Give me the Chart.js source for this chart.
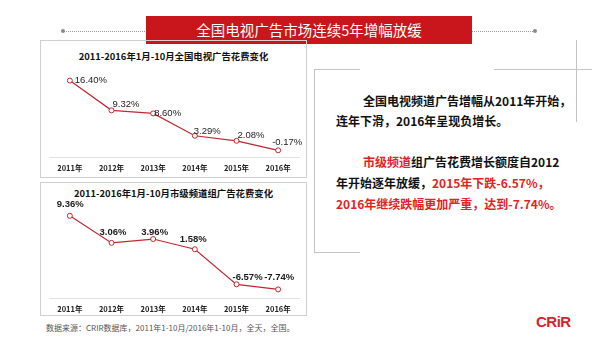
<!DOCTYPE html>
<html>
<head>
<meta charset="utf-8">
<script src="https://cdn.jsdelivr.net/npm/chart.js@4.4.1/dist/chart.umd.min.js"></script>
<style>
  body { margin: 0; background: #fff; }
  #page { position: relative; width: 600px; height: 337px; overflow: hidden; font-family: "Noto Sans CJK SC", "Noto Sans", sans-serif; }
  .abs { position: absolute; }
  .panel { position: absolute; border: 1px solid #cfcfcf; box-sizing: border-box; }
  .ptitle { position: absolute; left: 0; width: 100%; text-align: center; font-weight: bold; font-size: 9.4px; color: #111; line-height: 12px; }
  .gline { position: absolute; background: #c4c4c4; }
  .txt { position: absolute; font-weight: bold; font-size: 12px; color: #111; line-height: 14px; white-space: nowrap; }
  .red { color: #e2231f; }
</style>
</head>
<body>
<div id="page">
  <!-- header -->
  <div class="abs" style="left:63px;top:31px;width:472px;border-top:1px dotted #9a9a9a;"></div>
  <div class="abs" style="left:61px;top:29px;width:4px;height:4px;border-radius:50%;background:#8a8a8a;"></div>
  <div class="abs" style="left:533px;top:29px;width:4px;height:4px;border-radius:50%;background:#8a8a8a;"></div>
  <div class="abs" style="left:146px;top:16px;width:326px;height:28px;background:#c9161c;color:#fff;font-size:14.5px;line-height:28px;text-align:center;">全国电视广告市场连续5年增幅放缓</div>

  <!-- chart panels -->
  <div class="panel" style="left:40px;top:40px;width:267px;height:138px;">
    <div class="ptitle" style="top:9px;">2011-2016年1月-10月全国电视广告花费变化</div>
  </div>
  <div class="panel" style="left:40px;top:182px;width:267px;height:134px;">
    <div class="ptitle" style="top:4px;">2011-2016年1月-10月市级频道组广告花费变化</div>
  </div>
  <canvas id="c1" class="abs" style="left:44px;top:45px;width:260px;height:129px;"></canvas>
  <canvas id="c2" class="abs" style="left:44px;top:185px;width:260px;height:130px;"></canvas>

  <!-- text box brackets -->
  <div class="gline" style="left:576px;top:40px;width:1px;height:82px;"></div>
  <div class="gline" style="left:494px;top:69px;width:98px;height:1px;"></div>
  <div class="gline" style="left:314px;top:69px;width:46px;height:1px;"></div>
  <div class="gline" style="left:314px;top:69px;width:1px;height:183px;"></div>
  <div class="gline" style="left:314px;top:252px;width:46px;height:1px;"></div>

  <div class="txt" style="left:363px;top:94px;">全国电视频道广告增幅从2011年开始，</div>
  <div class="txt" style="left:336px;top:114px;">连年下滑，2016年呈现负增长。</div>
  <div class="txt" style="left:363px;top:155px;"><span class="red">市级频道</span>组广告花费增长额度自2012</div>
  <div class="txt" style="left:336px;top:176px;">年开始逐年放缓，<span class="red">2015年下跌-6.57%，</span></div>
  <div class="txt red" style="left:336px;top:197px;">2016年继续跌幅更加严重，达到-7.74%。</div>

  <!-- footer -->
  <div class="abs" style="left:46px;top:322px;font-size:8px;line-height:12px;color:#555;white-space:nowrap;">数据来源：CRIR数据库，2011年1-10月/2016年1-10月，全天，全国。</div>
  <div class="abs" style="left:536px;top:313px;font-family:'Liberation Sans',sans-serif;font-weight:bold;font-size:15px;line-height:18px;color:#d8232a;letter-spacing:-0.5px;">CRiR</div>
</div>

<script>
var years = ['2011年', '2012年', '2013年', '2014年', '2015年', '2016年'];
var nationalGrowth = [16.40, 9.32, 8.60, 3.29, 2.08, -0.17];
var cityGrowth = [9.36, 3.06, 3.96, 1.58, -6.57, -7.74];

// where each value label sits relative to its point (left edge, vertical middle)
var nationalLabelNudge = [[5, 0], [1, -6], [1, 0], [-1, -4], [1, -5], [-6, -8]];
var cityLabelNudge = [[-13, -11], [-12, -11], [-12, -7], [-15, -10], [-4, -7], [-14, -12]];

var lineRed = '#c1272d';

var valueLabels = {
    id: 'valueLabels',
    afterDatasetsDraw: function(chart, args, opts) {
        var ctx = chart.ctx;
        var meta = chart.getDatasetMeta(0);
        var values = chart.data.datasets[0].data;
        ctx.save();
        ctx.font = opts.font;
        ctx.fillStyle = '#1a1a1a';
        ctx.textAlign = 'left';
        ctx.textBaseline = 'middle';
        meta.data.forEach(function(pt, i) {
            var n = opts.nudge[i];
            ctx.fillText(values[i].toFixed(2) + '%', pt.x + n[0], pt.y + n[1]);
        });
        ctx.restore();
    }
};

function makeChart(id, values, yMin, yMax, nudge, labelFont) {
    var ctx = document.getElementById(id);
    return new Chart(ctx, {
        type: 'line',
        data: {
            labels: years,
            datasets: [{
                data: values,
                borderColor: lineRed,
                borderWidth: 1.2,
                backgroundColor: '#fff',
                pointBackgroundColor: '#fff',
                pointBorderColor: lineRed,
                pointBorderWidth: 1,
                pointRadius: 2.5,
                tension: 0
            }]
        },
        options: {
            responsive: false,
            animation: false,
            devicePixelRatio: 1,
            layout: { padding: 0 },
            plugins: {
                legend: { display: false },
                tooltip: { enabled: false },
                valueLabels: { nudge: nudge, font: labelFont }
            },
            scales: {
                x: {
                    offset: true,
                    grid: { display: false, drawTicks: false },
                    border: { display: true, color: '#e2e2e2', width: 1 },
                    ticks: {
                        padding: 7,
                        color: '#222',
                        font: { family: '"Noto Sans CJK SC"', size: 7.5, weight: 'bold' }
                    },
                    afterFit: function(scale) { scale.height = 17; }
                },
                y: {
                    display: false,
                    min: yMin,
                    max: yMax
                }
            }
        },
        plugins: [valueLabels]
    });
}

makeChart('c1', nationalGrowth, -1.76, 23.66, nationalLabelNudge, '9.5px "Liberation Sans"');
makeChart('c2', cityGrowth, -9.74, 15.35, cityLabelNudge, 'bold 9.5px "Liberation Sans"');
</script>
</body>
</html>
